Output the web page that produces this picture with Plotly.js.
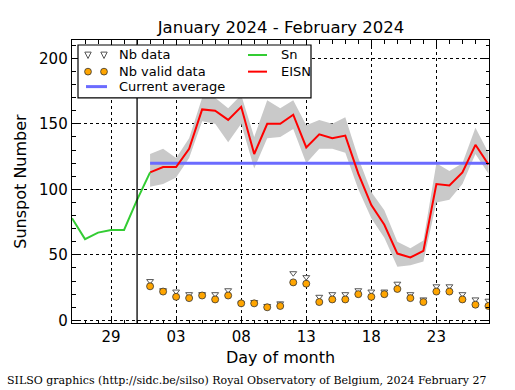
<!DOCTYPE html>
<html>
<head>
<meta charset="utf-8">
<script src="https://cdn.plot.ly/plotly-3.0.1.min.js"></script>
<style>html,body{margin:0;padding:0;background:#fff;}#chart{width:515px;height:390px;}</style>
</head>
<body>
<div id="chart"></div>
<script>
// ---- data ----
var snDates = ["2024-01-26","2024-01-27","2024-01-28","2024-01-29","2024-01-30","2024-01-31","2024-02-01"];
var snValues = [78, 62, 67, 69, 69, 92, 113];

var febDates = ["2024-02-01","2024-02-02","2024-02-03","2024-02-04","2024-02-05","2024-02-06","2024-02-07","2024-02-08","2024-02-09","2024-02-10","2024-02-11","2024-02-12","2024-02-13","2024-02-14","2024-02-15","2024-02-16","2024-02-17","2024-02-18","2024-02-19","2024-02-20","2024-02-21","2024-02-22","2024-02-23","2024-02-24","2024-02-25","2024-02-26","2024-02-27"];
var eisnValues = [113, 117, 117, 131, 161, 160, 153, 163, 127, 150, 150, 157, 132, 142, 139, 141, 112, 88, 73, 51, 48, 53, 104, 103, 113, 134, 119];
var eisnLow  = [102, 104, 109, 124, 152, 150, 136, 150, 116, 139, 140, 146, 120, 131, 131, 128, 100, 78, 63, 41, 42, 45, 90, 92, 104, 127, 112];
var eisnHigh = [127, 131, 124, 139, 170, 170, 162, 172, 140, 168, 162, 168, 149, 153, 150, 155, 124, 98, 84, 60, 55, 61, 120, 114, 120, 147, 128];
var nbData  = [30, 23, 22, 20, 20, 20, 23, 13, 14, 11, 13, 36, 33, 18, 20, 20, 23, 22, 22, 28, 20, 16, 26, 26, 20, 16, 15];
var nbValid = [26, 22, 18, 17, 19, 16, 19, 13, 13, 10, 11, 29, 28, 14, 16, 16, 20, 18, 20, 24, 17, 14, 22, 22, 16, 12, 11];
var currentAverage = 120;
var averageDates = ["2024-02-01", "2024-02-27"];
var monthBoundary = "2024-01-31";

var tickDates = ["2024-01-29","2024-02-03","2024-02-08","2024-02-13","2024-02-18","2024-02-23"];
var yTicks = [0, 50, 100, 150, 200];

var titleText = "January 2024 - February 2024";
var footerText = "SILSO graphics (http://sidc.be/silso) Royal Observatory of Belgium, 2024 February 27";
var legendLabels = ["Nb data", "Nb valid data", "Current average", "Sn", "EISN"];

// ---- styles ----
var colBand = "#c9c9c9", colAvg = "#6b6bff", colEisn = "#ff0000", colSn = "#33cc33";
var colOrange = "#ffa500", colTriEdge = "#555555";

// ---- traces ----
var traces = [
  {x: febDates, y: eisnLow, type: "scatter", mode: "lines", line: {width: 0, color: "rgba(0,0,0,0)"}, showlegend: false},
  {x: febDates, y: eisnHigh, type: "scatter", mode: "lines", fill: "tonexty", fillcolor: colBand, line: {width: 0, color: "rgba(0,0,0,0)"}, showlegend: false},
  {x: averageDates, y: averageDates.map(function(){return currentAverage;}), type: "scatter", mode: "lines", name: legendLabels[2], line: {color: colAvg, width: 3}, showlegend: false},
  {x: febDates, y: eisnValues, type: "scatter", mode: "lines", name: legendLabels[4], line: {color: colEisn, width: 2}, showlegend: false},
  {x: snDates, y: snValues, type: "scatter", mode: "lines", name: legendLabels[3], line: {color: colSn, width: 2}, showlegend: false},
  {x: febDates, y: nbData, type: "scatter", mode: "markers", name: legendLabels[0], marker: {symbol: "triangle-down", size: 6, color: "#ffffff", line: {color: colTriEdge, width: 1}}, showlegend: false},
  {x: febDates, y: nbValid, type: "scatter", mode: "markers", name: legendLabels[1], marker: {symbol: "circle", size: 7, color: colOrange, line: {color: "#333333", width: 0.8}}, showlegend: false}
];

// ---- layout helpers (pixel -> paper) ----
var W = 515, H = 390, mL = 72, mR = 26, mT = 40, mB = 66.5;
var pw = W - mL - mR, ph = H - mT - mB;
function px(X) { return (X - mL) / pw; }
function py(Y) { return (H - mB - Y) / ph; }

var shapes = [
  {type: "line", xref: "x", yref: "paper", x0: monthBoundary, x1: monthBoundary, y0: 0, y1: 1, line: {color: "#000", width: 1.3}},
  // legend box
  {type: "rect", xref: "paper", yref: "paper", x0: px(78), x1: px(311), y0: py(98), y1: py(45), fillcolor: "#fff", line: {color: "#000", width: 1.2}, layer: "above"},
  // line swatches
  {type: "line", xref: "paper", yref: "paper", x0: px(86), x1: px(107), y0: py(86.7), y1: py(86.7), line: {color: colAvg, width: 3}, layer: "above"},
  {type: "line", xref: "paper", yref: "paper", x0: px(248), x1: px(267), y0: py(55), y1: py(55), line: {color: colSn, width: 2}, layer: "above"},
  {type: "line", xref: "paper", yref: "paper", x0: px(248), x1: px(267), y0: py(71.7), y1: py(71.7), line: {color: colEisn, width: 2}, layer: "above"}
];
// triangle swatches
[88, 104].forEach(function(cx) {
  var cy = 55, s = 3.2;
  var pts = [[cx - s, cy - s * 0.9], [cx + s, cy - s * 0.9], [cx, cy + s * 1.1]];
  var path = "M" + pts.map(function(p){ return px(p[0]) + "," + py(p[1]); }).join(" L") + " Z";
  shapes.push({type: "path", xref: "paper", yref: "paper", path: path, fillcolor: "#fff", line: {color: colTriEdge, width: 1}, layer: "above"});
});
// circle swatches
[88, 104].forEach(function(cx) {
  var cy = 71.7, r = 3.4;
  shapes.push({type: "circle", xref: "paper", yref: "paper", x0: px(cx - r), x1: px(cx + r), y0: py(cy + r), y1: py(cy - r), fillcolor: colOrange, line: {color: "#333", width: 0.8}, layer: "above"});
});

var legendFont = {family: "DejaVu Sans", size: 13, color: "#000"};
var annotations = [
  {text: footerText, xref: "paper", yref: "paper", x: px(5), y: py(381), xanchor: "left", yanchor: "middle", showarrow: false, font: {family: "DejaVu Serif", size: 11, color: "#000"}},
  {text: legendLabels[0], xref: "paper", yref: "paper", x: px(117), y: py(55), xanchor: "left", yanchor: "middle", showarrow: false, font: legendFont},
  {text: legendLabels[1], xref: "paper", yref: "paper", x: px(117), y: py(71.5), xanchor: "left", yanchor: "middle", showarrow: false, font: legendFont},
  {text: legendLabels[2], xref: "paper", yref: "paper", x: px(117), y: py(87), xanchor: "left", yanchor: "middle", showarrow: false, font: legendFont},
  {text: legendLabels[3], xref: "paper", yref: "paper", x: px(279), y: py(55), xanchor: "left", yanchor: "middle", showarrow: false, font: legendFont},
  {text: legendLabels[4], xref: "paper", yref: "paper", x: px(279), y: py(71.5), xanchor: "left", yanchor: "middle", showarrow: false, font: legendFont}
];

var axisCommon = {
  showline: true, linecolor: "#000", linewidth: 1.3, mirror: "allticks",
  ticks: "inside", ticklen: 7, tickwidth: 1, tickcolor: "#000",
  showgrid: true, gridcolor: "#000", gridwidth: 1, griddash: "dot",
  zeroline: false,
  tickfont: {family: "DejaVu Sans", size: 15, color: "#000"}
};

var layout = {
  width: W, height: H,
  margin: {l: mL, r: mR, t: mT, b: mB},
  paper_bgcolor: "#fff", plot_bgcolor: "#fff",
  showlegend: false,
  title: {text: titleText, font: {family: "DejaVu Sans", size: 16.5, color: "#000"}, x: px(281), xanchor: "center", y: 0.93, yanchor: "middle", xref: "paper"},
  xaxis: Object.assign({}, axisCommon, {
    type: "date",
    range: ["2024-01-26 00:00", "2024-02-27 01:00"],
    tickvals: tickDates, tickformat: "%d",
    minor: {dtick: 86400000, ticks: "inside", ticklen: 3.5, tickcolor: "#000", showgrid: false},
    title: {text: "Day of month", font: {family: "DejaVu Sans", size: 16, color: "#000"}, standoff: 6}
  }),
  yaxis: Object.assign({}, axisCommon, {
    range: [-2, 214],
    tickvals: yTicks,
    minor: {dtick: 10, ticks: "inside", ticklen: 3.5, tickcolor: "#000", showgrid: false},
    title: {text: "Sunspot Number", font: {family: "DejaVu Sans", size: 16, color: "#000"}, standoff: 8}
  }),
  shapes: shapes,
  annotations: annotations
};

Plotly.newPlot("chart", traces, layout, {displayModeBar: false, staticPlot: true});
</script>
</body>
</html>
